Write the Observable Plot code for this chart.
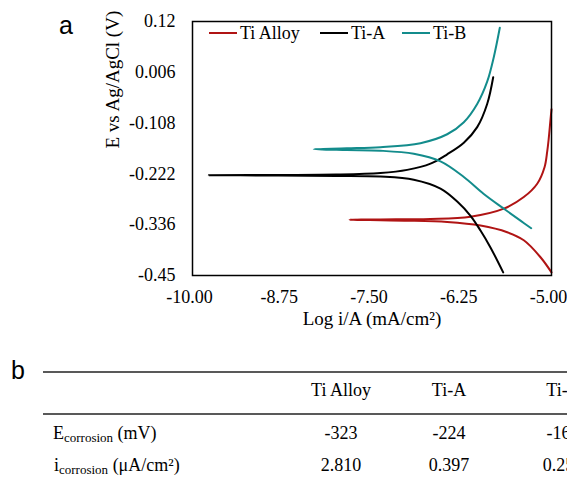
<!DOCTYPE html>
<html><head><meta charset="utf-8">
<script src="https://cdn.jsdelivr.net/npm/d3@7"></script>
<script src="https://cdn.jsdelivr.net/npm/@observablehq/plot@0.6"></script>
<style>
body{margin:0;background:#fff;}
#wrap{position:relative;width:567px;height:492px;overflow:hidden;background:#fff;font-family:'Liberation Serif','DejaVu Serif',serif;}
#wrap svg{display:block;}
</style></head><body><div id="wrap"></div>
<script>
// ---- data ----
const seriesNames = ["Ti Alloy", "Ti-A", "Ti-B"];
const seriesColors = ["#B01414", "#000000", "#138C8C"];

// points ordered: cathodic end -> Ecorr tip -> anodic end
const tiAlloyLogI = [-5.0, -5.153, -5.386, -5.617, -5.989, -6.453, -7.0, -7.382, -7.6, -7.813,
  -7.6, -7.382, -7.0, -6.685, -6.128, -5.664, -5.386, -5.199, -5.097, -5.060, -5.040, -5.014, -5.0];
const tiAlloyE = [-0.443, -0.409, -0.371, -0.353, -0.338, -0.330, -0.327, -0.3262, -0.3255, -0.325,
  -0.3245, -0.3242, -0.3237, -0.3230, -0.318, -0.300, -0.274, -0.244, -0.207, -0.172, -0.145, -0.100, -0.077];

const tiALogI = [-5.673, -5.850, -5.989, -6.128, -6.313, -6.546, -6.918, -7.382, -8.0, -8.8, -9.773,
  -8.8, -8.0, -7.382, -7.010, -6.685, -6.453, -6.221, -6.035, -5.896, -5.812];
const tiAE = [-0.443, -0.387, -0.349, -0.316, -0.284, -0.255, -0.235, -0.228, -0.2265, -0.2256, -0.225,
  -0.2244, -0.2235, -0.220, -0.213, -0.199, -0.178, -0.152, -0.117, -0.065, -0.005];

const tiBLogI = [-5.283, -5.432, -5.664, -5.943, -6.221, -6.546, -6.918, -7.382, -7.85, -8.311,
  -7.85, -7.382, -6.825, -6.453, -6.221, -6.035, -5.896, -5.804, -5.720];
const tiBE = [-0.344, -0.327, -0.300, -0.267, -0.229, -0.194, -0.177, -0.170, -0.1685, -0.1665,
  -0.1645, -0.162, -0.153, -0.133, -0.106, -0.065, -0.015, 0.040, 0.106];

const xTicks = [-10, -8.75, -7.5, -6.25, -5];
const xTickLabels = ["-10.00", "-8.75", "-7.50", "-6.25", "-5.00"];
const yTicks = [0.12, 0.006, -0.108, -0.222, -0.336, -0.45];
const yTickLabels = ["0.12", "0.006", "-0.108", "-0.222", "-0.336", "-0.45"];
const xLabel = "Log i/A (mA/cm²)";
const yLabel = "E vs Ag/AgCl (V)";

// table
const tableCols = ["Ti Alloy", "Ti-A", "Ti-B"];
const ecorrVals = ["-323", "-224", "-166"];
const icorrVals = ["2.810", "0.397", "0.250"];

// ---- build rows ----
const rows = [];
[[tiAlloyLogI, tiAlloyE], [tiALogI, tiAE], [tiBLogI, tiBE]].forEach(([xs, ys], k) => {
  xs.forEach((x, i) => rows.push({series: seriesNames[k], logI: x, E: ys[i]}));
});

const serif = "'Liberation Serif', 'DejaVu Serif', serif";
const sans = "'Liberation Sans', Arial, sans-serif";

const chart = Plot.plot({
  width: 567, height: 345,
  marginLeft: 192, marginRight: 16, marginTop: 21, marginBottom: 70,
  style: {fontFamily: serif, fontSize: "18px", color: "#000", background: "#fff"},
  x: {domain: [-10, -5]},
  y: {domain: [-0.45, 0.12]},
  color: {domain: seriesNames, range: seriesColors},
  marks: [
    Plot.axisX({ticks: xTicks, tickFormat: d => xTickLabels[xTicks.indexOf(d)], tickSize: 0, tickPadding: 15, label: null, fontSize: 18, dx: -3}),
    Plot.axisY({ticks: yTicks, tickFormat: d => yTickLabels[yTicks.indexOf(d)], tickSize: 0, tickPadding: 17, label: null, fontSize: 18}),
    Plot.line(rows, {x: "logI", y: "E", z: "series", stroke: "series", curve: "catmull-rom", strokeWidth: 2}),
    Plot.frame({stroke: "#000", strokeWidth: 1.5}),
    Plot.text([xLabel], {text: d => d, frameAnchor: "bottom", dy: 49, fontSize: 19, fill: "#000"}),
    Plot.text([yLabel], {text: d => d, frameAnchor: "left", dx: -80, rotate: -90, fontSize: 19, fill: "#000"})
  ]
});

document.getElementById("wrap").appendChild(chart);
const svg = d3.select(chart);

// panel label "a"
svg.append("text").attr("x", 59).attr("y", 34).attr("text-anchor", "start")
  .style("font-family", sans).attr("font-size", 25).attr("fill", "#000").text("a");

// legend
const legX = [209, 320, 402];
const lg = svg.append("g").attr("text-anchor", "start");
seriesNames.forEach((name, i) => {
  lg.append("line").attr("x1", legX[i]).attr("x2", legX[i] + 28).attr("y1", 33).attr("y2", 33)
    .attr("stroke", seriesColors[i]).attr("stroke-width", 2);
  lg.append("text").attr("x", legX[i] + 31).attr("y", 33).attr("dy", "0.35em")
    .style("font-family", serif).attr("font-size", 18).attr("fill", "#000").text(name);
});

// ---- table (panel b) ----
const T = d3.select("#wrap").append("svg").attr("width", 567).attr("height", 147)
  .style("font-family", serif).attr("font-size", 18);
T.append("text").attr("x", 11).attr("y", 34).style("font-family", sans).attr("font-size", 25).text("b");
T.append("line").attr("x1", 43).attr("x2", 567).attr("y1", 27).attr("y2", 27).attr("stroke", "#222").attr("stroke-width", 1.4);
T.append("line").attr("x1", 43).attr("x2", 567).attr("y1", 69).attr("y2", 69).attr("stroke", "#222").attr("stroke-width", 1.4);
const colX = [341, 449, 563];
tableCols.forEach((c, i) => {
  T.append("text").attr("x", colX[i]).attr("y", 51).attr("text-anchor", "middle").text(c);
  T.append("text").attr("x", colX[i]).attr("y", 94).attr("text-anchor", "middle").text(ecorrVals[i]);
  T.append("text").attr("x", colX[i]).attr("y", 126).attr("text-anchor", "middle").text(icorrVals[i]);
});
const r1 = T.append("text").attr("x", 53).attr("y", 94);
r1.append("tspan").text("E");
r1.append("tspan").attr("font-size", 13).attr("dy", 3).text("corrosion");
r1.append("tspan").attr("dy", -3).text(" (mV)");
const r2 = T.append("text").attr("x", 54).attr("y", 126);
r2.append("tspan").text("i");
r2.append("tspan").attr("font-size", 13).attr("dy", 3).text("corrosion");
r2.append("tspan").attr("dy", -3).text(" (μA/cm²)");
</script>
</body></html>
